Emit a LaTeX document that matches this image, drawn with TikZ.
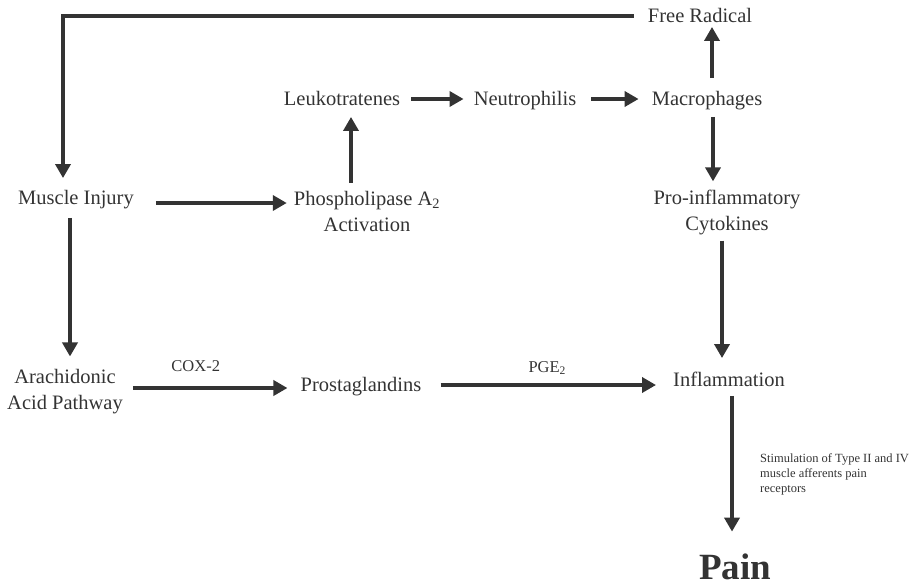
\documentclass[tikz,border=0pt]{standalone}
\usepackage{fontspec}
\setmainfont{Liberation Serif}
\usetikzlibrary{arrows.meta}
\definecolor{ink}{RGB}{51,51,51}
\begin{document}
\begin{tikzpicture}[x=1pt,y=-1pt,
    box/.style={inner sep=0pt,text=ink,font=\fontsize{20.5}{26}\selectfont,text height=13.5pt,text depth=0pt},
    twoline/.style={inner sep=0pt,text=ink,font=\fontsize{20.5}{26}\selectfont,align=center},
    lbl/.style={inner sep=0pt,text=ink,font=\fontsize{16.5}{20}\selectfont,text height=10.9pt,text depth=0pt},
    arr/.style={draw=ink,line width=4pt,-{Triangle[length=14pt,width=15pt]}}]
    \useasboundingbox (0,0) rectangle (917,587);
    \node[box] (free) at (700,16) {Free Radical};
    \node[box] (leuko) at (342,99) {Leukotratenes};
    \node[box] (neutro) at (525,99) {Neutrophilis};
    \node[box] (macro) at (707,99) {Macrophages};
    \node[box] (muscle) at (76,198) {Muscle Injury};
    \node[twoline] (phospho) at (367,211) {Phospholipase A\textsubscript{2}\\Activation};
    \node[twoline] (proinfl) at (727,212) {Pro-inflammatory\\Cytokines};
    \node[twoline] (arach) at (65,392) {Arachidonic\\Acid Pathway};
    \node[box] (prosta) at (361,385) {Prostaglandins};
    \node[box] (inflam) at (729,380) {Inflammation};
    \node[box,font=\fontsize{37}{40}\selectfont\bfseries,text height=24.4pt] (pain) at (735,567) {Pain};
    \node[inner sep=0pt,text=ink,font=\fontsize{12.5}{15}\selectfont,align=left,anchor=west] (stim) at (760,474)
        {Stimulation of Type II and IV\\muscle afferents pain\\receptors};
    \draw[arr,shorten <=14pt,shorten >=13pt] (free.west) -| ([xshift=-13pt]muscle.north);
    \draw[arr,shorten <=22pt,shorten >=7pt] ([yshift=-5pt]muscle.east) -- ([yshift=-5pt]muscle.east -| phospho.west);
    \draw[arr,shorten <=8pt,shorten >=11pt] ([xshift=-16pt]phospho.north) -- ([xshift=-16pt]phospho.north |- leuko.south);
    \draw[arr,shorten <=11pt,shorten >=10pt] (leuko) -- (neutro);
    \draw[arr,shorten <=15pt,shorten >=13pt] (neutro) -- (macro);
    \draw[arr,shorten <=14pt,shorten >=4pt] ([xshift=5pt]macro.north) -- ([xshift=5pt]macro.north |- free.south);
    \draw[arr,shorten <=11pt,shorten >=8pt] ([xshift=6pt]macro.south) -- ([xshift=6pt]macro.south |- proinfl.north);
    \draw[arr,shorten <=6pt,shorten >=15pt] ([xshift=-5pt]proinfl.south) -- ([xshift=-5pt]proinfl.south |- inflam.north);
    \draw[arr,shorten <=13pt,shorten >=13pt] ([xshift=-6pt]muscle.south) -- ([xshift=-6pt]muscle.south |- arach.north);
    \draw[arr,shorten <=10pt,shorten >=13pt] ([yshift=-3pt]prosta.west -| arach.east) -- ([yshift=-3pt]prosta.west)
        node[lbl,pos=0.41,above=15pt] (cox) {COX-2};
    \draw[arr,shorten <=19pt,shorten >=17pt] (prosta.east) -- (prosta.east -| inflam.west)
        node[lbl,midway,above=11pt] (pge) {PGE\textsubscript{2}};
    \draw[arr,shorten <=9pt,shorten >=23pt] ([xshift=3pt]inflam.south) -- ([xshift=3pt]inflam.south |- pain.north);
\end{tikzpicture}
\end{document}
